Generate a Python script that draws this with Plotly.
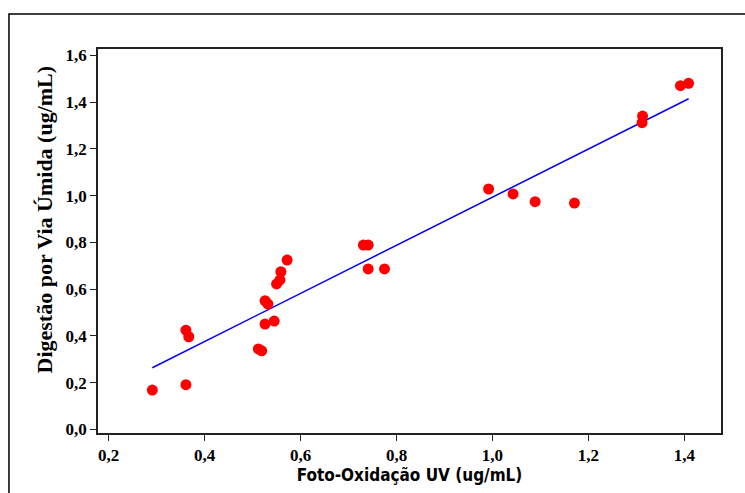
import plotly.graph_objects as go

# Data
foto_uv = [0.291, 0.361, 0.367, 0.361, 0.512, 0.519, 0.526, 0.532, 0.526, 0.545,
           0.550, 0.557, 0.559, 0.572, 0.731, 0.741, 0.741, 0.775, 0.992, 1.043,
           1.089, 1.171, 1.313, 1.312, 1.392, 1.409]
digestao = [0.168, 0.424, 0.396, 0.191, 0.344, 0.336, 0.550, 0.536, 0.450, 0.463,
            0.622, 0.639, 0.674, 0.724, 0.788, 0.788, 0.686, 0.686, 1.028, 1.007,
            0.974, 0.968, 1.340, 1.312, 1.470, 1.480]

# Fitted regression line (endpoints)
fit_x = [0.291, 1.409]
fit_y = [0.2635, 1.414]

x_ticks = [0.2, 0.4, 0.6, 0.8, 1.0, 1.2, 1.4]
x_tick_labels = ["0,2", "0,4", "0,6", "0,8", "1,0", "1,2", "1,4"]
y_ticks = [0.0, 0.2, 0.4, 0.6, 0.8, 1.0, 1.2, 1.4, 1.6]
y_tick_labels = ["0,0", "0,2", "0,4", "0,6", "0,8", "1,0", "1,2", "1,4", "1,6"]

SERIF = "Times New Roman, Liberation Serif, DejaVu Serif, serif"
SANS = "Liberation Sans Narrow, Arial Narrow, DejaVu Sans Condensed, sans-serif"

fig = go.Figure()
fig.add_trace(go.Scatter(x=fit_x, y=fit_y, mode="lines",
                         line=dict(color="#0000FF", width=1.5),
                         showlegend=False, hoverinfo="skip"))
fig.add_trace(go.Scatter(x=foto_uv, y=digestao, mode="markers",
                         marker=dict(color="#FF0000", size=11, line=dict(width=0)),
                         showlegend=False))

fig.update_layout(
    width=745, height=493,
    margin=dict(l=98, r=24, t=49, b=60),
    paper_bgcolor="white", plot_bgcolor="white",
    font=dict(family=SERIF, color="black"),
    xaxis=dict(
        range=[0.1777, 1.4765], tickvals=x_ticks, ticktext=x_tick_labels,
        showgrid=False, zeroline=False,
        showline=True, linecolor="#222222", linewidth=1.5, mirror=True,
        ticks="outside", ticklen=6, tickwidth=1, tickcolor="#222222",
        tickfont=dict(family=SERIF, size=17, color="black", weight="bold"),
        title=dict(text="Foto-Oxidação UV (ug/mL)", standoff=3,
                   font=dict(family=SANS, size=17, color="black", weight="bold")),
    ),
    yaxis=dict(
        range=[-0.0158, 1.627], tickvals=y_ticks, ticktext=y_tick_labels,
        showgrid=False, zeroline=False,
        showline=True, linecolor="#222222", linewidth=1.5, mirror=True,
        ticks="outside", ticklen=6, tickwidth=1, tickcolor="#222222",
        tickfont=dict(family=SERIF, size=17, color="black", weight="bold"),
    ),
    annotations=[dict(text="Digestão por Via Úmida (ug/mL)", textangle=-90,
                      xref="paper", yref="paper", x=-0.0851, y=0.556,
                      xanchor="center", yanchor="middle", showarrow=False,
                      font=dict(family=SERIF, size=22, color="black", weight="bold"))],
    shapes=[dict(type="rect", xref="paper", yref="paper",
                 x0=-0.1429, x1=1.06, y0=-0.2, y1=1.0911,
                 line=dict(color="black", width=1.5), fillcolor="rgba(0,0,0,0)",
                 layer="below")],
)

fig.write_html("out.html")
